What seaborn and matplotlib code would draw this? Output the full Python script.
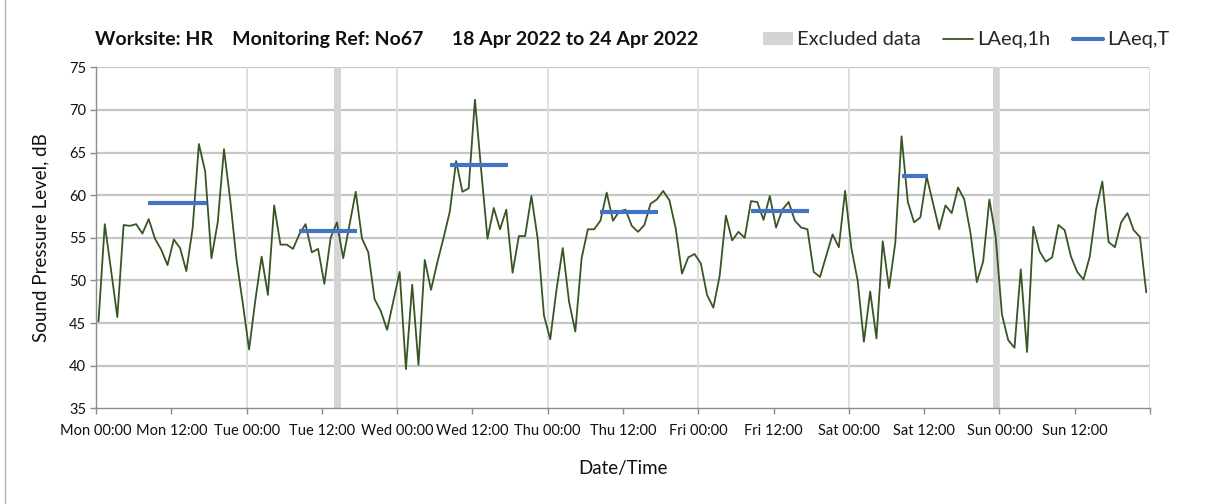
import numpy as np
import pandas as pd
import matplotlib
matplotlib.use("Agg")
import matplotlib.pyplot as plt
from matplotlib.patches import Patch
from matplotlib.lines import Line2D
import seaborn as sns

# Hourly LAeq,1h levels (dB) for the monitoring week, Mon 00:00 onwards
laeq_1h = [
    45.2, 56.6, 51.2, 45.7, 56.5, 56.4, 56.6, 55.5, 57.2, 54.9, 53.6, 51.8,
    54.8, 53.8, 51.1, 56.1, 66.0, 62.8, 52.6, 56.8, 65.4, 59.4, 52.4, 47.3,
    41.9, 47.7, 52.8, 48.3, 58.8, 54.2, 54.2, 53.7, 55.4, 56.6, 53.3, 53.7,
    49.6, 55.0, 56.8, 52.6, 56.5, 60.4, 54.9, 53.3, 47.8, 46.4, 44.2, 47.6,
    51.0, 39.6, 49.5, 40.1, 52.4, 48.9, 52.1, 55.0, 58.1, 64.0, 60.4, 60.8,
    71.2, 62.9, 54.9, 58.5, 56.0, 58.3, 50.9, 55.2, 55.2, 59.9, 54.9, 45.9,
    43.1, 48.9, 53.8, 47.5, 44.0, 52.6, 56.0, 56.0, 57.0, 60.3, 57.0, 58.1,
    58.3, 56.4, 55.7, 56.5, 59.0, 59.5, 60.5, 59.4, 56.1, 50.8, 52.7, 53.1,
    52.0, 48.3, 46.8, 50.5, 57.6, 54.7, 55.7, 55.0, 59.3, 59.2, 57.1, 59.9,
    56.2, 58.3, 59.2, 57.0, 56.2, 56.0, 51.0, 50.4, 52.9, 55.4, 53.9, 60.5,
    53.8, 50.0, 42.8, 48.7, 43.2, 54.6, 49.1, 54.4, 66.9, 59.2, 56.8, 57.4,
    62.2, 59.1, 56.0, 58.8, 57.9, 60.9, 59.5, 55.5, 49.8, 52.2, 59.5, 55.1,
    46.0, 43.0, 42.1, 51.3, 41.6, 56.3, 53.4, 52.2, 52.7, 56.5, 55.9, 52.8,
    51.0, 50.1, 52.8, 58.3, 61.6, 54.5, 53.9, 56.8, 57.9, 55.9, 55.1, 48.6,
]
sample_offset_h = 0.4  # position of each hourly sample within its hour

# LAeq,T period levels (dB) with their start/end in hours from Mon 00:00
laeq_t_levels = [59.1, 55.8, 63.5, 58.0, 58.1, 62.3]
laeq_t_start = [8.35, 32.35, 56.35, 80.35, 104.35, 128.4]
laeq_t_end = [17.65, 41.65, 65.65, 89.65, 113.65, 132.6]

# Hours (from Mon 00:00) whose data were excluded
excluded_hours = [38, 143]

# Axis ticks
tick_hours = list(range(0, 169, 12))
tick_labels = ["Mon 00:00", "Mon 12:00", "Tue 00:00", "Tue 12:00",
               "Wed 00:00", "Wed 12:00", "Thu 00:00", "Thu 12:00",
               "Fri 00:00", "Fri 12:00", "Sat 00:00", "Sat 12:00",
               "Sun 00:00", "Sun 12:00", ""]
y_ticks = [35, 40, 45, 50, 55, 60, 65, 70, 75]

title_text = "Worksite: HR    Monitoring Ref: No67      18 Apr 2022 to 24 Apr 2022"

sns.set_theme(style="white")
plt.rcParams["font.family"] = ["Lato", "DejaVu Sans"]

GREEN = "#375623"
BLUE = "#4472C4"
BAND = "#d4d4d4"
AXIS = "#8c8c8c"

hourly = pd.DataFrame({
    "hour": np.arange(len(laeq_1h)) + sample_offset_h,
    "level": laeq_1h,
})

period_rows = []
for i, (lv, s, e) in enumerate(zip(laeq_t_levels, laeq_t_start, laeq_t_end)):
    period_rows.append({"period": i, "hour": s, "level": lv})
    period_rows.append({"period": i, "hour": e, "level": lv})
periods = pd.DataFrame(period_rows)

fig = plt.figure(figsize=(12.08, 5.04), dpi=100)
W, H = 1208, 504
ax = fig.add_axes([96 / W, 1 - 408.3 / H, (1150 - 96) / W, (408.3 - 67.3) / H])

for h in excluded_hours:
    ax.axvspan(h, h + 1, color=BAND, lw=0, zorder=1)

sns.lineplot(data=hourly, x="hour", y="level", color=GREEN, linewidth=1.3,
             ax=ax, zorder=3, legend=False)
sns.lineplot(data=periods, x="hour", y="level", units="period", estimator=None,
             color=BLUE, linewidth=3, solid_capstyle="butt", ax=ax, zorder=4,
             legend=False)

ax.set_xlim(0, 168)
ax.set_ylim(35, 75)
ax.set_xticks(tick_hours)
ax.set_xticklabels(tick_labels)
ax.set_yticks(y_ticks)

# Grid: horizontal at every level tick, vertical at each midnight
for y in y_ticks[1:]:
    ax.axhline(y, color="#c6c6c6", lw=1.6, zorder=0)
for x in range(24, 169, 24):
    ax.axvline(x, color="#dedede", lw=1.4, zorder=0)

for side in ["top", "right"]:
    ax.spines[side].set_visible(False)
for side in ["left", "bottom"]:
    ax.spines[side].set_color(AXIS)
    ax.spines[side].set_linewidth(1.0)

ax.tick_params(axis="both", which="major", direction="out", length=4,
               width=1, color=AXIS, labelsize=10.5, labelcolor="#111111")
ax.tick_params(axis="x", pad=7)
ax.tick_params(axis="y", pad=3)
ax.xaxis.set_ticks_position("bottom")
ax.yaxis.set_ticks_position("left")

ax.set_xlabel("Date/Time", fontsize=13.5, color="#111111", labelpad=16)
ax.set_ylabel("Sound Pressure Level, dB", fontsize=13.5, color="#111111",
              labelpad=14)

fig.text(95 / W, 1 - 40 / H, title_text, fontsize=14, fontweight="bold",
         ha="left", va="center", color="#111111")

handles = [
    Patch(facecolor=BAND, edgecolor="none"),
    Line2D([0], [0], color=GREEN, lw=1.3),
    Line2D([0], [0], color=BLUE, lw=3),
]
fig.legend(handles, ["Excluded data", "LAeq,1h", "LAeq,T"],
           loc="center left", bbox_to_anchor=(763 / W, 1 - 40 / H),
           ncol=3, frameon=False, fontsize=14.5, handlelength=1.5,
           handleheight=0.6, handletextpad=0.2, columnspacing=1.1,
           borderpad=0, borderaxespad=0)

fig.add_artist(Line2D([5 / W, 5 / W], [0, 1], transform=fig.transFigure,
                      color="#b4b4b4", lw=1))

fig.savefig("out.png", dpi=100, facecolor="white")
